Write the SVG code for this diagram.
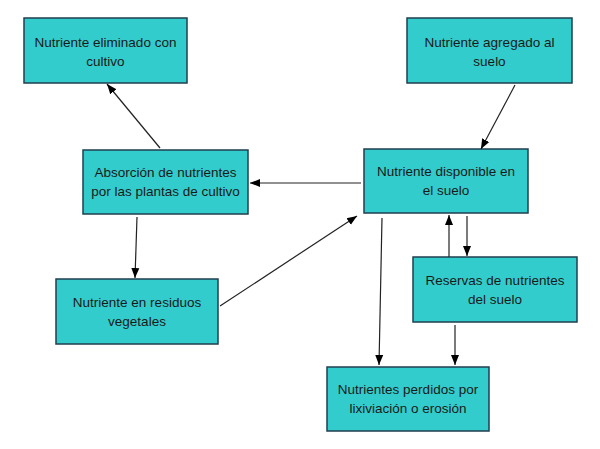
<svg xmlns="http://www.w3.org/2000/svg" width="600" height="449" viewBox="0 0 600 449">
<style>
.box{fill:#33CCCC;stroke:#1F3F4F;stroke-width:1.5}
.t{font-family:"Liberation Sans",Arial,sans-serif;font-size:13.5px;fill:#1a1a1a;text-anchor:middle}
.c{stroke:#222;stroke-width:1.2;fill:none;marker-end:url(#ah)}
</style>
<defs>
<marker id="ah" viewBox="0 0 10 10" refX="10" refY="5" markerWidth="10" markerHeight="10" markerUnits="userSpaceOnUse" orient="auto">
<path d="M0,1 L10,5 L0,9 Z" fill="#000"/>
</marker>
</defs>
<rect width="600" height="449" fill="#fff"/>
<g id="n1"><rect class="box" x="24" y="18" width="163" height="65"/><text class="t" x="105.5" y="47">Nutriente eliminado con</text><text class="t" x="105.5" y="66">cultivo</text></g>
<g id="n2"><rect class="box" x="407" y="18" width="165" height="65"/><text class="t" x="489.5" y="47">Nutriente agregado al</text><text class="t" x="489.5" y="66">suelo</text></g>
<g id="n3"><rect class="box" x="83" y="150" width="165" height="64"/><text class="t" x="165.5" y="177">Absorción de nutrientes</text><text class="t" x="165.5" y="196">por las plantas de cultivo</text></g>
<g id="n4"><rect class="box" x="364" y="149" width="164" height="64"/><text class="t" x="446" y="176">Nutriente disponible en</text><text class="t" x="446" y="195">el suelo</text></g>
<g id="n5"><rect class="box" x="56" y="279" width="162" height="65"/><text class="t" x="137" y="307">Nutriente en residuos</text><text class="t" x="137" y="326">vegetales</text></g>
<g id="n6"><rect class="box" x="413" y="257" width="164" height="65"/><text class="t" x="495" y="285">Reservas de nutrientes</text><text class="t" x="495" y="304">del suelo</text></g>
<g id="n7"><rect class="box" x="327" y="367" width="162" height="64"/><text class="t" x="408" y="394">Nutrientes perdidos por</text><text class="t" x="408" y="413">lixiviación o erosión</text></g>
<g id="connectors">
<line class="c" x1="160" y1="148" x2="107" y2="84"/>
<line class="c" x1="515" y1="85" x2="481" y2="149"/>
<line class="c" x1="361" y1="183" x2="250" y2="183"/>
<line class="c" x1="137" y1="217" x2="135" y2="278"/>
<line class="c" x1="220" y1="306" x2="357" y2="216"/>
<line class="c" x1="382" y1="218" x2="379" y2="365"/>
<line class="c" x1="449" y1="257" x2="449" y2="215"/>
<line class="c" x1="467" y1="216" x2="467" y2="256"/>
<line class="c" x1="455" y1="325" x2="455" y2="365"/>
</g>
</svg>
